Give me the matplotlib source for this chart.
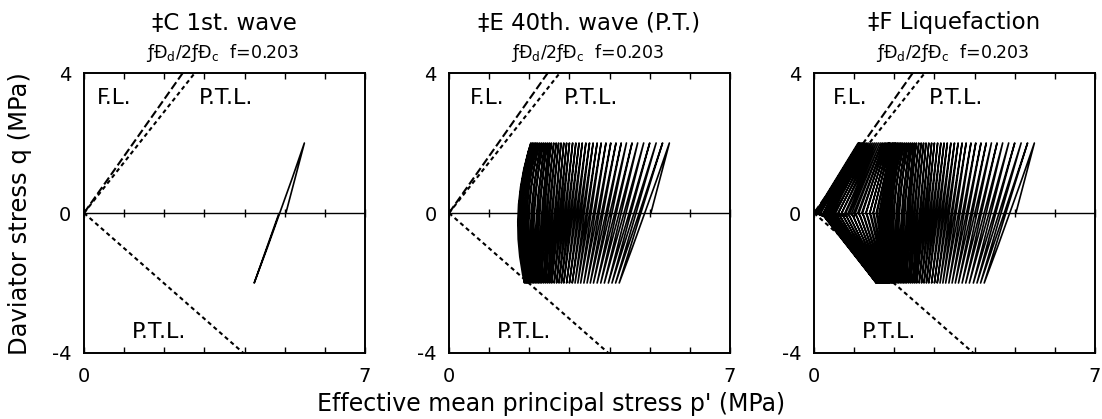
import numpy as np
import matplotlib
matplotlib.use("Agg")
import matplotlib.pyplot as plt
from matplotlib.path import Path
from matplotlib.patches import PathPatch

plt.rcParams['font.family'] = ['DejaVu Sans']

# ---------------------------------------------------------------- data
titles = ["\u2021C 1st. wave", "\u2021E 40th. wave (P.T.)", "\u2021F Liquefaction"]
subtitle = "\u0192\u00d0$_\\mathrm{d}$/2\u0192\u00d0$_\\mathrm{c}$  f=0.203"
xlabel = "Effective mean principal stress p' (MPa)"
ylabel = "Daviator stress q (MPa)"

p_lim = (0, 7)
q_lim = (-4, 4)
x_ticklabels = ["0", "", "", "", "", "", "", "7"]
y_ticks = [-4, 0, 4]

# deviator stress amplitude of the cyclic loading (MPa)
q_amp = 2.0

# failure line / phase transformation lines: p' where each meets the frame
fl_p_end, fl_q_end = 2.46, 4.0
ptl_c_p_end, ptl_c_q_end = 2.76, 4.0
ptl_e_p_end, ptl_e_q_end = 3.97, -4.0

# cycles 1-40: p' at q = +amp, at q = -amp and at the q = 0 crossings
cyc_top = [5.49, 5.32, 5.16, 5.00, 4.85, 4.70, 4.56, 4.42, 4.29, 4.16,
           4.03, 3.91, 3.79, 3.69, 3.59, 3.50, 3.41, 3.32, 3.24, 3.16,
           3.08, 3.00, 2.93, 2.86, 2.79, 2.73, 2.67, 2.61, 2.55, 2.50,
           2.45, 2.40, 2.35, 2.30, 2.25, 2.20, 2.16, 2.12, 2.08, 2.04]
cyc_bot = [4.24, 4.15, 4.06, 3.97, 3.87, 3.78, 3.69, 3.60, 3.52, 3.44,
           3.36, 3.28, 3.21, 3.14, 3.07, 3.00, 2.93, 2.86, 2.80, 2.74,
           2.68, 2.62, 2.56, 2.51, 2.46, 2.41, 2.36, 2.31, 2.27, 2.23,
           2.19, 2.15, 2.11, 2.07, 2.03, 2.00, 1.97, 1.94, 1.91, 1.88]
# unloading (top -> bottom) crossing of q = 0
cyc_dn = [4.88, 4.74, 4.61, 4.49, 4.36, 4.24, 4.13, 4.01, 3.91, 3.80,
          3.70, 3.60, 3.50, 3.42, 3.33, 3.25, 3.17, 3.09, 3.02, 2.95,
          2.88, 2.81, 2.75, 2.69, 2.63, 2.55, 2.49, 2.42, 2.36, 2.31,
          2.24, 2.18, 2.11, 2.05, 1.98, 1.92, 1.87, 1.81, 1.77, 1.72]
# loading (previous bottom -> top) crossing of q = 0; first entry is the start
cyc_up = [5.03, 4.78, 4.66, 4.53, 4.41, 4.29, 4.17, 4.06, 3.95, 3.84,
          3.74, 3.64, 3.54, 3.45, 3.37, 3.29, 3.21, 3.13, 3.05, 2.98,
          2.91, 2.84, 2.78, 2.71, 2.65, 2.58, 2.51, 2.45, 2.38, 2.33,
          2.26, 2.20, 2.13, 2.07, 2.00, 1.94, 1.88, 1.83, 1.78, 1.74]
cyc_end_1 = 4.86
cyc_end_40 = 1.74

# liquefaction cycles following the 40th wave
liq_top = [2.01, 1.98, 1.95, 1.91, 1.87, 1.83, 1.79, 1.75, 1.70, 1.65,
           1.60, 1.55, 1.50, 1.45, 1.40, 1.35, 1.31, 1.27, 1.23, 1.20,
           1.17, 1.14, 1.12, 1.10]
liq_dn = [1.68, 1.62, 1.55, 1.47, 1.39, 1.30, 1.21, 1.12, 1.03, 0.94,
          0.85, 0.77, 0.69, 0.61, 0.54, 0.47, 0.41, 0.36, 0.32, 0.29,
          0.27, 0.26, 0.25, 0.25]
liq_bot = [1.87, 1.86, 1.85, 1.83, 1.81, 1.79, 1.77, 1.75, 1.73, 1.71,
           1.69, 1.67, 1.65, 1.63, 1.62, 1.61, 1.60, 1.59, 1.58, 1.57,
           1.56, 1.56, 1.55, 1.55]
liq_knee = [1.71, 1.66, 1.59, 1.51, 1.43, 1.34, 1.25, 1.16, 1.07, 0.98,
            0.89, 0.81, 0.73, 0.65, 0.57, 0.50, 0.44, 0.39, 0.34, 0.30,
            0.28, 0.27, 0.26, 0.25]
liq_knee_q = -0.1
liq_neck = [1.70, 1.64, 1.57, 1.48, 1.39, 1.29, 1.19, 1.09, 0.99, 0.89,
            0.79, 0.69, 0.60, 0.51, 0.43, 0.36, 0.29, 0.23, 0.17, 0.12,
            0.09, 0.06, 0.04, 0.03]

# ---------------------------------------------------------------- paths
def stress_path(n_cycles, end_p=None, with_liq=False):
    verts = [(cyc_up[0], 0.0), (cyc_top[0], q_amp)]
    codes = [Path.MOVETO, Path.LINETO]
    for i in range(n_cycles):
        a, b = cyc_top[i], cyc_bot[i]
        ctrl = 2 * cyc_dn[i] - (a + b) / 2
        verts += [(ctrl, 0.0), (b, -q_amp)]
        codes += [Path.CURVE3, Path.CURVE3]
        if i + 1 < n_cycles:
            a2 = cyc_top[i + 1]
            ctrl = 2 * cyc_up[i + 1] - (b + a2) / 2
            verts += [(ctrl, 0.0), (a2, q_amp)]
            codes += [Path.CURVE3, Path.CURVE3]
    if end_p is not None:
        verts.append((end_p, 0.0))
        codes.append(Path.LINETO)
    if with_liq:
        for k in range(len(liq_top)):
            verts += [(liq_knee[k], liq_knee_q), (liq_neck[k], 0.0),
                      (liq_top[k], q_amp), (liq_dn[k], 0.0), (liq_bot[k], -q_amp)]
            codes += [Path.LINETO] * 5
    return Path(np.array(verts), codes)


paths = [stress_path(1, end_p=cyc_end_1),
         stress_path(40, end_p=cyc_end_40),
         stress_path(40, with_liq=True)]

# ---------------------------------------------------------------- figure
W, H = 1102, 419
fig = plt.figure(figsize=(W / 100, H / 100), dpi=100)
ax_left_px = [84, 449, 814]
ax_w_px, ax_top_px, ax_bot_px = 281, 73, 353
fl_label_p = [0.32, 0.52, 0.47]

for i in range(3):
    ax = fig.add_axes([ax_left_px[i] / W, 1 - ax_bot_px / H,
                       ax_w_px / W, (ax_bot_px - ax_top_px) / H])
    ax.set_xlim(*p_lim)
    ax.set_ylim(*q_lim)
    for s in ax.spines.values():
        s.set_linewidth(1.4)
    ax.set_xticks(np.arange(p_lim[0], p_lim[1] + 1))
    ax.set_xticklabels(x_ticklabels, fontsize=14)
    ax.set_yticks(y_ticks)
    ax.set_yticklabels([str(v) for v in y_ticks], fontsize=14)
    ax.tick_params(axis='x', direction='in', top=True, length=4, width=1, pad=10)
    ax.tick_params(axis='y', length=0, pad=9)

    # q = 0 axis with crossing ticks
    ax.axhline(0, color='black', lw=1.0)
    xt = np.arange(p_lim[0], p_lim[1] + 1)
    ax.plot(xt, np.zeros_like(xt), linestyle='none', marker='|',
            markersize=6, markeredgewidth=1.0, color='black', clip_on=False)

    # failure and phase transformation lines
    ax.plot([0, fl_p_end], [0, fl_q_end], color='black', lw=1.5, dashes=(4.0, 1.6))
    ax.plot([0, ptl_c_p_end], [0, ptl_c_q_end], color='black', lw=1.5, dashes=(2.0, 1.6))
    ax.plot([0, ptl_e_p_end], [0, ptl_e_q_end], color='black', lw=1.5, dashes=(2.0, 1.6))

    ax.add_patch(PathPatch(paths[i], fill=False, edgecolor='black', lw=1.2,
                           joinstyle='round'))

    ax.text(fl_label_p[i], 3.3, "F.L.", fontsize=15.5, ha='left', va='center')
    ax.text(2.87, 3.3, "P.T.L.", fontsize=16, ha='left', va='center')
    ax.text(1.2, -3.4, "P.T.L.", fontsize=16, ha='left', va='center')

    cx = (ax_left_px[i] + ax_w_px / 2) / W
    fig.text(cx, 1 - 23 / H, titles[i], fontsize=16.5, ha='center', va='center')
    fig.text(cx - 2 / W, 1 - 53 / H, subtitle, fontsize=12.5, ha='center', va='center')

fig.text(0.5, 1 - 404 / H, xlabel, fontsize=17, ha='center', va='center')
fig.text(20 / W, 1 - 214 / H, ylabel, fontsize=17.5, ha='center', va='center',
         rotation=90)

fig.savefig("out.png", dpi=100)
